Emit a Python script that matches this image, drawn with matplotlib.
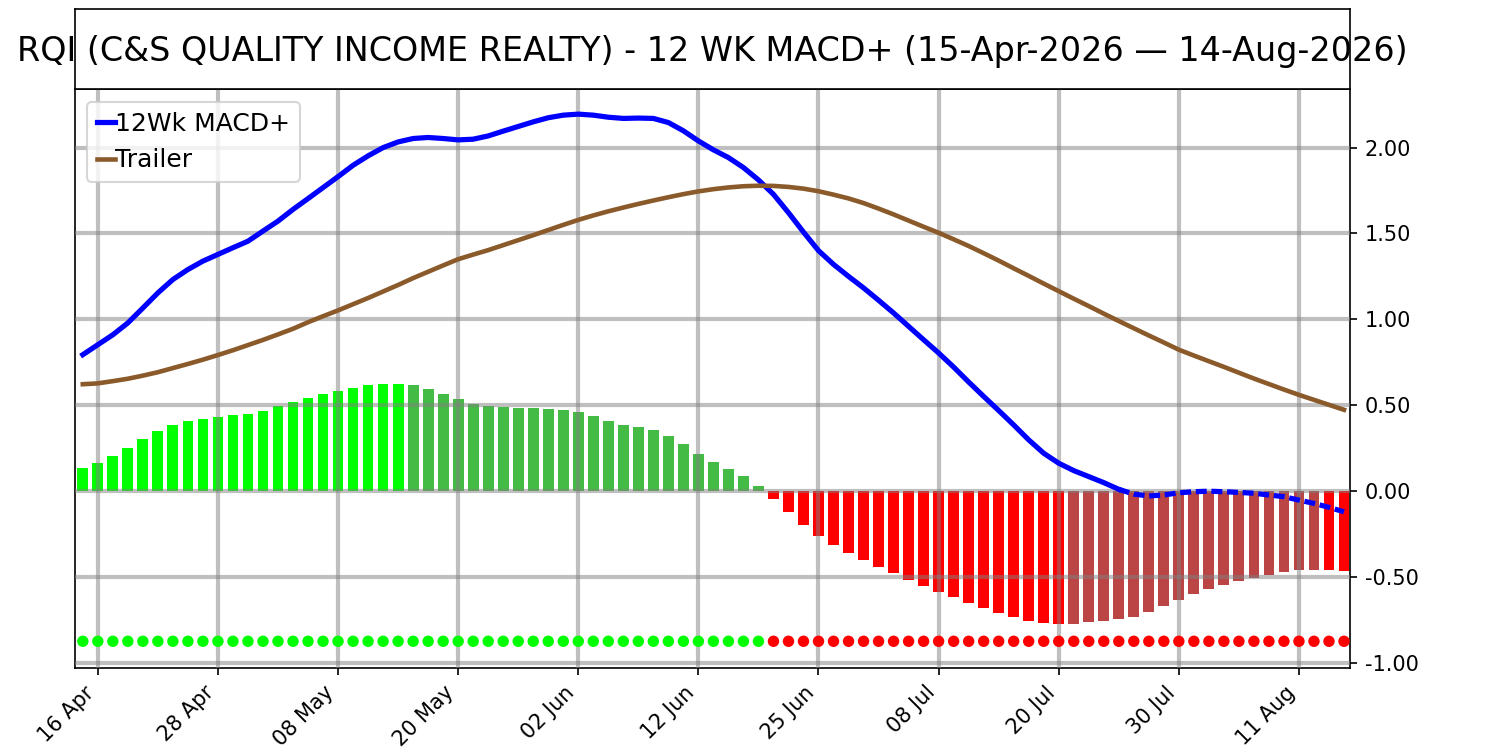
import matplotlib
matplotlib.use('Agg')
import matplotlib.pyplot as plt
import numpy as np

title = 'RQI (C&S QUALITY INCOME REALTY) - 12 WK MACD+ (15-Apr-2026 \u2014 14-Aug-2026)'

# one value per trading day, 15 Apr .. 14 Aug
macd = [0.794, 0.852, 0.910, 0.979, 1.066, 1.154, 1.232, 1.290, 1.339, 1.378,
        1.417, 1.455, 1.514, 1.572, 1.640, 1.703, 1.767, 1.831, 1.897, 1.952,
        2.000, 2.033, 2.053, 2.059, 2.053, 2.045, 2.049, 2.068, 2.096, 2.123,
        2.150, 2.174, 2.189, 2.195, 2.189, 2.177, 2.170, 2.172, 2.170, 2.146,
        2.098, 2.039, 1.987, 1.942, 1.884, 1.812, 1.728, 1.621, 1.508, 1.400,
        1.320, 1.250, 1.183, 1.111, 1.037, 0.959, 0.881, 0.804, 0.722, 0.635,
        0.551, 0.469, 0.385, 0.298, 0.220, 0.162, 0.119, 0.084, 0.049, 0.010,
        -0.018, -0.029, -0.023, -0.010, -0.004, -0.001, -0.004, -0.008, -0.013, -0.023,
        -0.033, -0.053, -0.072, -0.095, -0.121]

trailer = [0.622, 0.627, 0.640, 0.654, 0.672, 0.692, 0.716, 0.740, 0.765, 0.792,
           0.820, 0.850, 0.880, 0.912, 0.945, 0.983, 1.018, 1.052, 1.088, 1.124,
           1.162, 1.200, 1.240, 1.277, 1.314, 1.350, 1.377, 1.403, 1.432, 1.461,
           1.490, 1.520, 1.550, 1.579, 1.605, 1.629, 1.651, 1.672, 1.692, 1.711,
           1.729, 1.745, 1.758, 1.768, 1.775, 1.778, 1.777, 1.771, 1.761, 1.746,
           1.726, 1.704, 1.677, 1.645, 1.611, 1.575, 1.539, 1.504, 1.466, 1.427,
           1.385, 1.342, 1.297, 1.253, 1.208, 1.164, 1.120, 1.077, 1.033, 0.990,
           0.948, 0.906, 0.865, 0.823, 0.789, 0.756, 0.723, 0.689, 0.655, 0.623,
           0.591, 0.560, 0.531, 0.502, 0.473]

hist = [0.134, 0.163, 0.204, 0.251, 0.303, 0.350, 0.385, 0.409, 0.420, 0.432,
        0.444, 0.451, 0.467, 0.496, 0.519, 0.543, 0.566, 0.584, 0.601, 0.619,
        0.625, 0.626, 0.619, 0.595, 0.566, 0.537, 0.508, 0.496, 0.490, 0.484,
        0.482, 0.478, 0.473, 0.461, 0.438, 0.409, 0.385, 0.374, 0.356, 0.321,
        0.274, 0.216, 0.169, 0.128, 0.088, 0.029, -0.045, -0.120, -0.197, -0.261,
        -0.313, -0.360, -0.400, -0.440, -0.477, -0.517, -0.553, -0.588, -0.617, -0.652,
        -0.683, -0.710, -0.733, -0.757, -0.769, -0.776, -0.774, -0.763, -0.757, -0.745,
        -0.733, -0.704, -0.669, -0.635, -0.600, -0.570, -0.547, -0.524, -0.506, -0.489,
        -0.471, -0.462, -0.458, -0.461, -0.466]

tick_labels = ['16 Apr', '28 Apr', '08 May', '20 May', '02 Jun', '12 Jun',
               '25 Jun', '08 Jul', '20 Jul', '30 Jul', '11 Aug']

x = np.arange(len(macd))
macd = np.array(macd)
hist = np.array(hist)

# histogram colours: sign and direction
bar_colors = []
for i, h in enumerate(hist):
    rising = i == 0 or h > hist[i - 1]
    if h >= 0:
        bar_colors.append('#00ff00' if rising else '#44bb44')
    else:
        bar_colors.append('#bb4444' if rising else '#ff0000')
dot_colors = ['#00ff00' if h >= 0 else '#ff0000' for h in hist]

fig = plt.figure(figsize=(10, 5), dpi=150)
ax = fig.add_axes([0.0497, 0.1097, 0.8503, 0.7711])
tax = fig.add_axes([0.0497, 0.8810, 0.8503, 0.1067])
tax.set_xticks([])
tax.set_yticks([])
tax.text(0.5, 0.47, title, ha='center', va='center', fontsize=16,
         transform=tax.transAxes, zorder=0)

ax.bar(x, hist, width=0.72, color=bar_colors, zorder=1)

neg = int(np.argmax(macd < 0))
ax.plot(x[:neg], macd[:neg], color='blue', lw=2.5, zorder=3, label='12Wk MACD+')
ax.plot(x[neg - 1:], macd[neg - 1:], color='blue', lw=2.5, zorder=3,
        dashes=(2.1, 0.9))
ax.plot(x, trailer, color='#8B5A2B', lw=2.2, zorder=3, label='Trailer')
ax.scatter(x, [-0.875] * len(x), s=30, c=dot_colors, zorder=3, linewidths=0)

ax.set_xlim(-0.55, 84.4)
ax.set_ylim(-1.029, 2.339)
ax.set_xticks(x[1::8])
ax.set_xticklabels(tick_labels, rotation=45, ha='right')
ax.set_yticks([-1.0, -0.5, 0.0, 0.5, 1.0, 1.5, 2.0])
ax.yaxis.set_major_formatter(matplotlib.ticker.FormatStrFormatter('%.2f'))
ax.yaxis.tick_right()
ax.set_axisbelow(False)
ax.grid(True, color='gray', alpha=0.5, lw=2)

ax.legend(loc='upper left', fontsize=12, handlelength=0.7, handletextpad=0.0)

plt.savefig('out.png')
